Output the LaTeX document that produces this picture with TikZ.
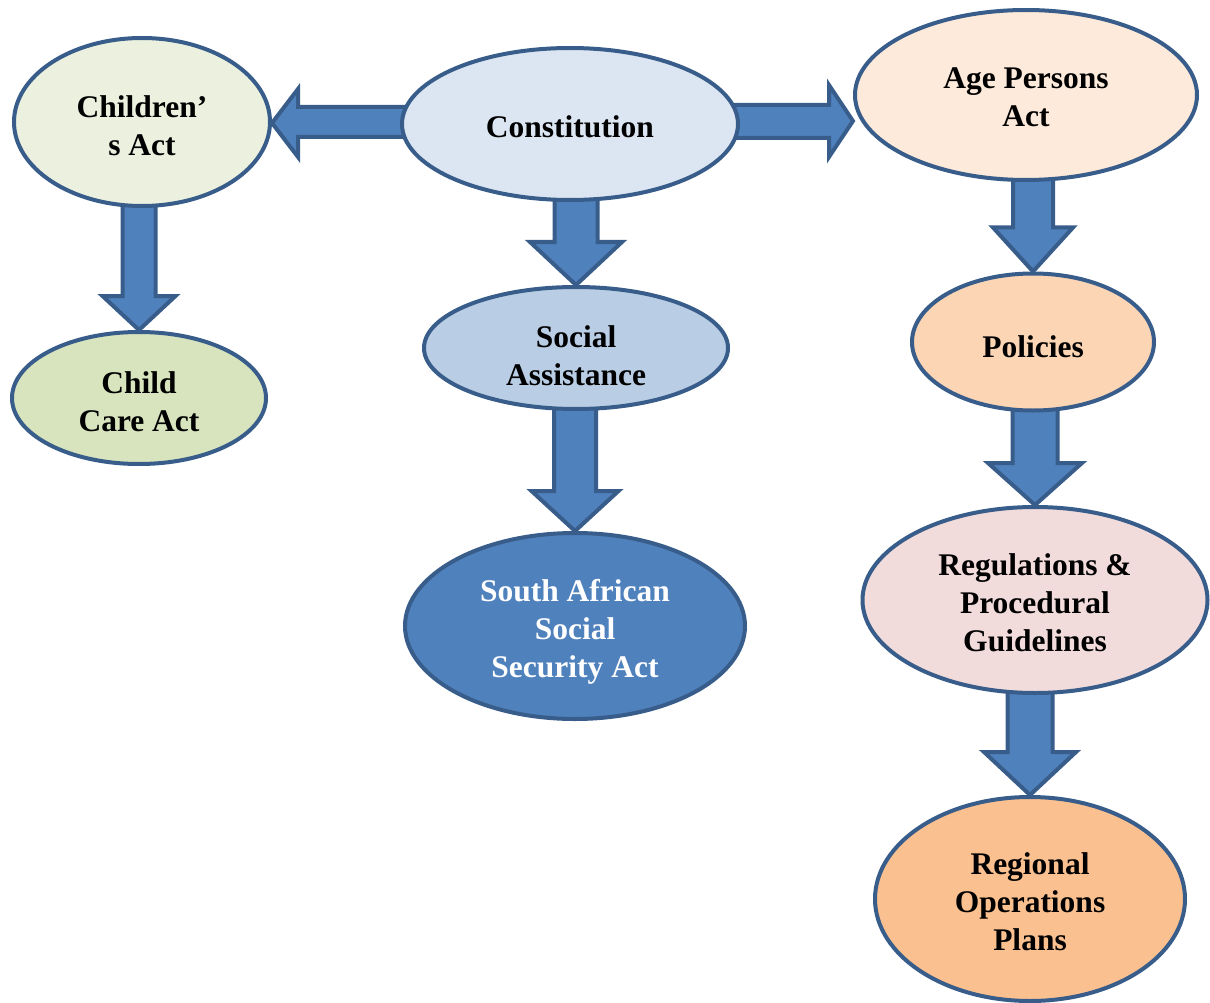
\documentclass[tikz,border=0pt]{standalone}
\usepackage{fontspec}
\setmainfont{Liberation Serif}
\usetikzlibrary{calc,backgrounds,shapes.geometric}
\definecolor{bordc}{HTML}{385D8A}
\definecolor{arrc}{HTML}{4F81BD}
\definecolor{cChildren}{HTML}{EBF1DE}
\definecolor{cChildCare}{HTML}{D7E4BD}
\definecolor{cConst}{HTML}{DCE6F2}
\definecolor{cSocial}{HTML}{B9CDE5}
\definecolor{cSassa}{HTML}{4F81BD}
\definecolor{cAge}{HTML}{FDEADA}
\definecolor{cPolicies}{HTML}{FCD5B5}
\definecolor{cRegs}{HTML}{F2DCDB}
\definecolor{cRegional}{HTML}{FAC090}
\tikzset{
  oval/.style={ellipse, draw=bordc, line width=4pt, inner sep=0pt},
  ovaltext/.style={inner sep=0pt, align=center, font=\fontsize{31.5}{38}\selectfont\bfseries},
  blockarrow/.style={fill=arrc, draw=bordc, line width=4pt, line join=miter},
}
\newcommand\downblock[5]{%
  \draw[blockarrow] let \p1=(#1.south), \p2=(#2.north) in
    (\x2-#3pt,\y1+12pt) -- (\x2-#3pt,\y2+#5pt) -- (\x2-#4pt,\y2+#5pt) -- (\x2,\y2)
    -- (\x2+#4pt,\y2+#5pt) -- (\x2+#3pt,\y2+#5pt) -- (\x2+#3pt,\y1+12pt) -- cycle;}
\begin{document}
\begin{tikzpicture}[x=1pt,y=-1pt]
\useasboundingbox (0,0) rectangle (1210,1003);
\node[oval, fill=cChildren, minimum width=256pt, minimum height=168pt,
  label={[ovaltext, yshift=-4pt]center:Children’\\s Act}] (children) at (142,122) {};
\node[oval, fill=cConst, minimum width=336pt, minimum height=152pt,
  label={[ovaltext, yshift=-3pt]center:Constitution}] (const) at (570,124) {};
\node[oval, fill=cAge, minimum width=342pt, minimum height=170pt,
  label={[ovaltext, yshift=-2pt]center:Age Persons\\Act}] (age) at (1026,95) {};
\node[oval, fill=cChildCare, minimum width=254pt, minimum height=132pt,
  label={[ovaltext, yshift=-4pt]center:Child\\Care Act}] (childcare) at (139,398) {};
\node[oval, fill=cSocial, minimum width=304pt, minimum height=122pt,
  label={[ovaltext, yshift=-8pt]center:Social\\Assistance}] (social) at (576,348) {};
\node[oval, fill=cPolicies, minimum width=242pt, minimum height=137pt,
  label={[ovaltext, yshift=-5pt]center:Policies}] (policies) at (1033,342) {};
\node[oval, fill=cSassa, minimum width=340pt, minimum height=186pt,
  label={[ovaltext, text=white, yshift=-6pt]center:South African\\Social\\Security Act}] (sassa) at (575,626) {};
\node[oval, fill=cRegs, minimum width=345pt, minimum height=186pt,
  label={[ovaltext, yshift=-3pt]center:Regulations \&\\Procedural\\Guidelines}] (regs) at (1035,600) {};
\node[oval, fill=cRegional, minimum width=310pt, minimum height=204pt,
  label={[ovaltext, yshift=-3pt]center:Regional\\Operations\\Plans}] (regional) at (1030,899) {};
\begin{pgfonlayer}{background}
% Constitution -> Children's Act (left)
\draw[blockarrow] let \p1=(const.west), \p2=(children.east) in
  (\x1+12pt,\y1+17pt) -- (\x2+26pt,\y1+17pt) -- (\x2+26pt,\y1+35pt) -- (\x2,\y1+1pt)
  -- (\x2+26pt,\y1-33pt) -- (\x2+26pt,\y1-13pt) -- (\x1+12pt,\y1-13pt) -- cycle;
% Constitution -> Age Persons Act (right)
\draw[blockarrow] let \p1=(const.east), \p2=(age.west) in
  (\x1-12pt,\y1+19pt) -- (\x2-24pt,\y1+19pt) -- (\x2-24pt,\y1+39pt) -- (\x2,\y1+3pt)
  -- (\x2-24pt,\y1-33pt) -- (\x2-24pt,\y1-14pt) -- (\x1-12pt,\y1-14pt) -- cycle;
\downblock{const}{social}{21.5}{46}{43}
\downblock{children}{childcare}{16.5}{36.5}{34}
\downblock{age}{policies}{20}{40}{44}
\downblock{social}{sassa}{21}{43.5}{40}
\downblock{policies}{regs}{22.5}{47}{42}
\downblock{regs}{regional}{22.5}{46}{43}
\end{pgfonlayer}
\end{tikzpicture}
\end{document}
